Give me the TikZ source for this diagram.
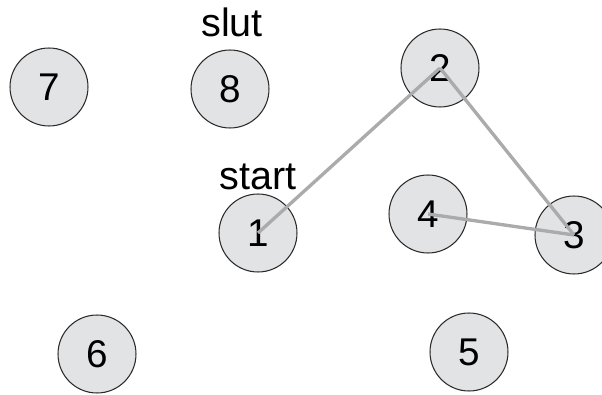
\documentclass[tikz,border=0pt]{standalone}
\usepackage{fontspec}
\setmainfont{Liberation Sans}
\definecolor{vfill}{HTML}{E2E3E4}
\definecolor{vline}{HTML}{2A2A2A}
\definecolor{eline}{HTML}{ABABAB}

\begin{document}
\begin{tikzpicture}[x=0.02cm, y=-0.02cm,
	vertex/.style={circle, draw=vline, fill=vfill, line width=0.6pt, minimum size=1.56cm, inner sep=0pt, font=\fontsize{22}{25}\selectfont},
	tag/.style={inner sep=0pt, font=\fontsize{22.5}{25}\selectfont}]
	
	\useasboundingbox (0,0) rectangle (602,395);
	
	% noder
	\node[vertex] (n7) at (49,87) {7};
	\node[vertex] (n8) at (230,89) {8};
	\node[vertex] (n2) at (440,68) {2};
	\node[vertex] (n1) at (258,233) {1};
	\node[vertex] (n4) at (428,214) {4};
	\node[vertex] (n3) at (574,235) {3};
	\node[vertex] (n6) at (97,354) {6};
	\node[vertex] (n5) at (469,352) {5};
	
	% etiketter
	\node[tag] (slut) at (232,22) {slut};
	\node[tag] (start) at (258,177) {start};
	
	% kanter
	\draw[eline, line width=1.9pt] (n1.center) -- (n2.center);
	\draw[eline, line width=1.9pt] (n2.center) -- (n3.center);
	\draw[eline, line width=1.9pt] (n4.center) -- (n3.center);
	
\end{tikzpicture}
\end{document}
